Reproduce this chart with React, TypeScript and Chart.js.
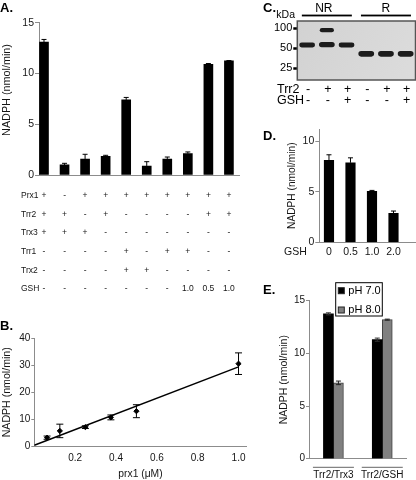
import React, { useEffect, useRef } from "react";
import { Chart, registerables } from "chart.js";

Chart.register(...registerables);

const FONT = "'Liberation Sans', Arial, Helvetica, sans-serif";
Chart.defaults.font.family = FONT;

const AXIS = "#8c8c8c";
const TEXT = "#151515";

// ---------------- Panel A data ----------------
const aValues = [13.1, 0.99, 1.58, 1.84, 7.4, 0.89, 1.58, 2.1, 10.9, 11.24];
const aErrors = [0.25, 0.16, 0.46, 0.1, 0.24, 0.42, 0.19, 0.17, 0.08, 0.03];
const aYTicks = [0, 5, 10, 15];
const aRowLabels = ["Prx1", "Trr2", "Trx3", "Trr1", "Trx2", "GSH"];
const aPrx1 = ["+", "-", "+", "+", "+", "+", "+", "+", "+", "+"];
const aTrr2 = ["+", "+", "-", "+", "-", "-", "-", "-", "+", "+"];
const aTrx3 = ["+", "+", "+", "-", "-", "-", "-", "-", "-", "-"];
const aTrr1 = ["-", "-", "-", "-", "+", "-", "+", "+", "-", "-"];
const aTrx2 = ["-", "-", "-", "-", "+", "+", "-", "-", "-", "-"];
const aGSH = ["-", "-", "-", "-", "-", "-", "-", "1.0", "0.5", "1.0"];
const aRows = [aPrx1, aTrr2, aTrx3, aTrr1, aTrx2, aGSH];

// ---------------- Panel B data ----------------
const bConc = [0.0625, 0.125, 0.25, 0.375, 0.5, 1.0];
const bRate = [3.2, 5.7, 7.1, 10.7, 13.0, 30.6];
const bErr = [0.6, 2.5, 0.5, 0.9, 2.4, 4.0];
const bFitX = [0, 1.0];
const bFitY = [0.4, 29.4];
const bXTicks = [0.2, 0.4, 0.6, 0.8, 1.0];
const bYTicks = [0, 10, 20, 30, 40];

// ---------------- Panel C data ----------------
const cLanes = ["1", "2", "3", "4", "5", "6"];
const cMarkers = [25, 50, 100];
const cMonomer: (number[] | null)[] = [
  [51.5, 61], [51.8, 62.5], [51.5, 61], [37.5, 45.5], [37.5, 45.5], [37.5, 45.5],
];
const cDimer: (number[] | null)[] = [null, [87, 101], null, null, null, null];
const cTrr2 = ["-", "+", "+", "-", "+", "+"];
const cGSH = ["-", "-", "+", "-", "-", "+"];
const cGroups = ["NR", "R"];

// ---------------- Panel D data ----------------
const dGSH = ["0", "0.5", "1.0", "2.0"];
const dValues = [8.1, 7.86, 5.03, 2.86];
const dErrors = [0.55, 0.49, 0.1, 0.23];
const dYTicks = [0, 5, 10];

// ---------------- Panel E data ----------------
const eGroups = ["Trr2/Trx3", "Trr2/GSH"];
const eSeries = ["pH 7.0", "pH 8.0"];
const ePh7 = [13.75, 11.3];
const ePh8 = [7.2, 13.2];
const ePh7Err = [0.1, 0.15];
const ePh8Err = [0.17, 0.05];
const eYTicks = [0, 5, 10, 15];

const Y_TITLE = "NADPH (nmol/min)";

type ErrSet = { dataset: number; errors: number[]; both?: boolean; cap: number; color?: string };

function errorBars(sets: ErrSet[]) {
  return {
    id: "errorBars",
    afterDatasetsDraw(chart: any) {
      const ctx = chart.ctx;
      const ys = chart.scales.y;
      ctx.save();
      sets.forEach((s) => {
        const meta = chart.getDatasetMeta(s.dataset);
        const data = chart.data.datasets[s.dataset].data;
        meta.data.forEach((el: any, i: number) => {
          const e = s.errors[i];
          const raw = data[i];
          if (e == null || raw == null) return;
          const v = typeof raw === "number" ? raw : raw.y;
          const x = el.x;
          const yt = ys.getPixelForValue(v + e);
          const yb = ys.getPixelForValue(s.both ? v - e : v);
          ctx.strokeStyle = s.color || "#000";
          ctx.lineWidth = 1;
          ctx.beginPath();
          ctx.moveTo(x, yt);
          ctx.lineTo(x, yb);
          ctx.moveTo(x - s.cap, yt);
          ctx.lineTo(x + s.cap, yt);
          if (s.both) {
            ctx.moveTo(x - s.cap, yb);
            ctx.lineTo(x + s.cap, yb);
          }
          ctx.stroke();
        });
      });
      ctx.restore();
    },
  };
}

const fixWidth = (w: number) => (s: any) => {
  s.width = w;
};
const fixHeight = (h: number) => (s: any) => {
  s.height = h;
};
const setTicks = (arr: number[]) => (s: any) => {
  s.ticks = arr.map((v) => ({ value: v }));
};

// ---------------- Panel A ----------------
function makeA(): any {
  const table = {
    id: "aTable",
    afterDraw(chart: any) {
      const ctx = chart.ctx;
      const xs = chart.scales.x;
      ctx.save();
      // rotated axis title (sits a little above the plot's middle)
      ctx.save();
      ctx.translate(6.8, 90);
      ctx.rotate(-Math.PI / 2);
      ctx.font = `10.8px ${FONT}`;
      ctx.fillStyle = TEXT;
      ctx.textAlign = "center";
      ctx.textBaseline = "middle";
      ctx.fillText(Y_TITLE, 0, 0);
      ctx.restore();
      // condition table
      ctx.font = `8.5px ${FONT}`;
      ctx.fillStyle = TEXT;
      ctx.textBaseline = "middle";
      aRowLabels.forEach((lab, r) => {
        const y = 195.5 + r * 18.7;
        ctx.textAlign = "left";
        ctx.fillText(lab, 21, y);
        ctx.textAlign = "center";
        aRows[r].forEach((sym, i) => ctx.fillText(sym, xs.getPixelForValue(i), y));
      });
      ctx.restore();
    },
  };
  return {
    type: "bar",
    data: {
      datasets: [
        {
          data: aValues.map((v, i) => ({ x: i, y: v })),
          backgroundColor: "#000",
          borderWidth: 0,
          barThickness: 9,
        },
      ],
    },
    options: {
      responsive: false,
      animation: false,
      layout: { padding: { left: 0, top: 22.7, right: 19, bottom: 125 } },
      plugins: { legend: { display: false }, tooltip: { enabled: false } },
      scales: {
        x: {
          type: "linear",
          offset: false,
          min: -0.243,
          max: 9.49,
          ticks: { display: false },
          grid: { display: false, drawTicks: false },
          border: { color: AXIS, width: 1 },
          afterFit: fixHeight(0),
        },
        y: {
          min: 0,
          max: 15,
          afterBuildTicks: setTicks(aYTicks),
          ticks: { font: { size: 10.5 }, color: TEXT, padding: 1 },
          grid: { display: true, drawOnChartArea: false, tickLength: 4, color: AXIS },
          border: { color: AXIS, width: 1 },
          afterFit: fixWidth(39),
        },
      },
    },
    plugins: [errorBars([{ dataset: 0, errors: aErrors, cap: 2.5 }]), table],
  };
}

// ---------------- Panel B ----------------
function makeB(): any {
  return {
    type: "scatter",
    data: {
      datasets: [
        {
          data: bConc.map((x, i) => ({ x, y: bRate[i] })),
          backgroundColor: "#000",
          borderColor: "#000",
          pointStyle: "rectRot",
          pointRadius: 2.6,
        },
        {
          type: "line",
          data: bFitX.map((x, i) => ({ x, y: bFitY[i] })),
          borderColor: "#000",
          borderWidth: 1.5,
          pointRadius: 0,
          showLine: true,
          fill: false,
        },
      ],
    },
    options: {
      responsive: false,
      animation: false,
      layout: { padding: { left: 0, top: 18.3, right: 11.3, bottom: 0 } },
      plugins: { legend: { display: false }, tooltip: { enabled: false } },
      scales: {
        x: {
          type: "linear",
          min: 0,
          max: 1.04,
          afterBuildTicks: setTicks(bXTicks),
          ticks: { font: { size: 10 }, color: TEXT, padding: 6, callback: (v: any) => Number(v).toFixed(1) },
          grid: { display: false, drawTicks: false },
          border: { color: AXIS, width: 1 },
          title: {
            display: true,
            text: "prx1 (\u03bcM)",
            font: { size: 10.3 },
            color: TEXT,
            padding: { top: 0, bottom: 0 },
          },
          afterFit: fixHeight(33.7),
        },
        y: {
          min: 0,
          max: 40,
          afterBuildTicks: setTicks(bYTicks),
          ticks: { font: { size: 10 }, color: TEXT, padding: 1 },
          grid: { display: true, drawOnChartArea: false, tickLength: 3, color: AXIS },
          border: { color: AXIS, width: 1 },
          title: {
            display: true,
            text: Y_TITLE,
            font: { size: 10.6 },
            color: TEXT,
            padding: { top: 1, bottom: 0 },
          },
          afterFit: fixWidth(34.3),
        },
      },
    },
    plugins: [errorBars([{ dataset: 0, errors: bErr, both: true, cap: 3.5 }])],
  };
}

// ---------------- Panel C ----------------
function makeC(): any {
  const blot = {
    id: "blot",
    beforeDatasetsDraw(chart: any) {
      const { ctx, chartArea: a } = chart;
      ctx.save();
      const g = ctx.createLinearGradient(a.left, a.top, a.right, a.bottom);
      g.addColorStop(0, "#d2d2d2");
      g.addColorStop(1, "#dcdcdc");
      ctx.fillStyle = g;
      ctx.fillRect(a.left, a.top, a.right - a.left, a.bottom - a.top);
      ctx.strokeStyle = "#555";
      ctx.lineWidth = 1.5;
      ctx.strokeRect(a.left, a.top, a.right - a.left, a.bottom - a.top);
      ctx.restore();
    },
    beforeDatasetDraw(chart: any) {
      chart.ctx.filter = "blur(0.7px)";
    },
    afterDatasetDraw(chart: any) {
      chart.ctx.filter = "none";
    },
    afterDraw(chart: any) {
      const { ctx } = chart;
      const xs = chart.scales.x;
      ctx.save();
      ctx.fillStyle = "#000";
      ctx.textBaseline = "middle";
      ctx.font = `10.5px ${FONT}`;
      ctx.textAlign = "right";
      ctx.fillText("kDa", 32, 15.5);
      ctx.font = `12px ${FONT}`;
      ctx.textAlign = "center";
      cGroups.forEach((gname, gi) => {
        const c = (xs.getPixelForValue(gi * 3) + xs.getPixelForValue(gi * 3 + 2)) / 2;
        ctx.fillText(gname, c - (gi === 0 ? 3 : 0), 8.5);
        ctx.fillRect(c - 25, 14.6, 50, 1.8);
      });
      ctx.font = `12.5px ${FONT}`;
      ctx.textAlign = "left";
      ctx.fillText("Trr2", 14, 90);
      ctx.fillText("GSH", 14, 100.7);
      ctx.textAlign = "center";
      cLanes.forEach((_, i) => {
        const x = xs.getPixelForValue(i) + 1;
        ctx.fillText(cTrr2[i], x, 90);
        ctx.fillText(cGSH[i], x, 100.7);
      });
      ctx.restore();
    },
  };
  return {
    type: "bar",
    data: {
      labels: cLanes,
      datasets: [
        {
          data: cMonomer,
          backgroundColor: "#1c1c1c",
          borderWidth: 0,
          borderRadius: 3,
          borderSkipped: false,
          grouped: false,
          barPercentage: 0.8,
          categoryPercentage: 1,
        },
        {
          data: cDimer,
          backgroundColor: "#1c1c1c",
          borderWidth: 0,
          borderRadius: 3,
          borderSkipped: false,
          grouped: false,
          barPercentage: 0.72,
          categoryPercentage: 1,
        },
      ],
    },
    options: {
      responsive: false,
      animation: false,
      layout: { padding: { left: 0, top: 21, right: 0.5, bottom: 32 } },
      plugins: { legend: { display: false }, tooltip: { enabled: false } },
      scales: {
        x: {
          ticks: { display: false },
          grid: { display: false, drawTicks: false },
          border: { display: false },
          afterFit: fixHeight(0),
        },
        y: {
          type: "logarithmic",
          min: 16.7,
          max: 129,
          afterBuildTicks: setTicks(cMarkers),
          ticks: { font: { size: 11 }, color: "#000", padding: 1, callback: (v: any) => String(v) },
          grid: {
            display: true,
            drawOnChartArea: false,
            tickLength: 4,
            tickWidth: 2.5,
            tickColor: "#000",
            color: "#000",
          },
          border: { display: false },
          afterFit: fixWidth(34.3),
        },
      },
    },
    plugins: [blot],
  };
}

// ---------------- Panel D ----------------
function makeD(): any {
  const lab = {
    id: "dLab",
    afterDraw(chart: any) {
      const ctx = chart.ctx;
      ctx.save();
      ctx.font = `10.5px ${FONT}`;
      ctx.fillStyle = TEXT;
      ctx.textBaseline = "middle";
      ctx.textAlign = "left";
      ctx.fillText("GSH", 21, 131.7);
      ctx.restore();
    },
  };
  return {
    type: "bar",
    data: {
      datasets: [
        {
          data: dValues.map((v, i) => ({ x: i, y: v })),
          backgroundColor: "#000",
          borderWidth: 0,
          barThickness: 9.5,
        },
      ],
    },
    options: {
      responsive: false,
      animation: false,
      layout: { padding: { left: 0, top: 9, right: 1, bottom: 0 } },
      plugins: { legend: { display: false }, tooltip: { enabled: false } },
      scales: {
        x: {
          type: "linear",
          offset: false,
          min: -0.45,
          max: 4.0,
          afterBuildTicks: setTicks([0, 1, 2, 3]),
          ticks: { font: { size: 10.5 }, color: TEXT, padding: 4, callback: (v: any) => dGSH[v] },
          grid: { display: false, drawTicks: false },
          border: { color: AXIS, width: 1 },
          afterFit: fixHeight(19.7),
        },
        y: {
          min: 0,
          max: 11.2,
          afterBuildTicks: setTicks(dYTicks),
          ticks: { font: { size: 10.5 }, color: TEXT, padding: 1 },
          grid: { display: true, drawOnChartArea: false, tickLength: 4, color: AXIS },
          border: { color: AXIS, width: 1 },
          title: {
            display: true,
            text: Y_TITLE,
            font: { size: 10.2 },
            color: TEXT,
            padding: { top: 22.8, bottom: 0 },
          },
          afterFit: fixWidth(56.3),
        },
      },
    },
    plugins: [errorBars([{ dataset: 0, errors: dErrors, cap: 2.5 }]), lab],
  };
}

// ---------------- Panel E ----------------
function makeE(): any {
  const deco = {
    id: "eDeco",
    afterDraw(chart: any) {
      const ctx = chart.ctx;
      const xs = chart.scales.x;
      ctx.save();
      // legend box
      ctx.fillStyle = "#fff";
      ctx.fillRect(72.7, 4.7, 46.6, 33.3);
      ctx.strokeStyle = "#000";
      ctx.lineWidth = 1;
      ctx.strokeRect(72.7, 4.7, 46.6, 33.3);
      ctx.font = `11px ${FONT}`;
      ctx.textBaseline = "middle";
      ctx.textAlign = "left";
      chart.data.datasets.forEach((ds: any, i: number) => {
        const y = 12.7 + i * 19.3;
        ctx.fillStyle = ds.backgroundColor;
        ctx.fillRect(75.3, y - 3, 6, 6);
        ctx.strokeStyle = "#222";
        ctx.strokeRect(75.3, y - 3, 6, 6);
        ctx.fillStyle = "#000";
        ctx.fillText(ds.label, 85.3, y);
      });
      // group labels
      ctx.font = `10px ${FONT}`;
      ctx.textAlign = "center";
      eGroups.forEach((g, i) => {
        const c = xs.getPixelForValue(i);
        ctx.strokeStyle = "#666";
        ctx.beginPath();
        ctx.moveTo(c - 20.5, 189.3);
        ctx.lineTo(c + 20.5, 189.3);
        ctx.stroke();
        ctx.fillStyle = "#111";
        ctx.fillText(g, c, 197.5);
      });
      ctx.restore();
    },
  };
  return {
    type: "bar",
    data: {
      labels: eGroups,
      datasets: [
        {
          label: eSeries[0],
          data: ePh7,
          backgroundColor: "#000",
          borderColor: "#000",
          borderWidth: 0,
          barThickness: 10,
          categoryPercentage: 0.97,
        },
        {
          label: eSeries[1],
          data: ePh8,
          backgroundColor: "#808080",
          borderColor: "#404040",
          borderWidth: 1,
          barThickness: 10,
          categoryPercentage: 0.97,
        },
      ],
    },
    options: {
      responsive: false,
      animation: false,
      layout: { padding: { left: 0, top: 22.7, right: 9.3, bottom: 21.3 } },
      plugins: { legend: { display: false }, tooltip: { enabled: false } },
      scales: {
        x: {
          ticks: { display: false },
          grid: { display: false, drawTicks: false },
          border: { color: AXIS, width: 1 },
          afterFit: fixHeight(0),
        },
        y: {
          min: 0,
          max: 15,
          afterBuildTicks: setTicks(eYTicks),
          ticks: { font: { size: 10 }, color: TEXT, padding: 1 },
          grid: { display: true, drawOnChartArea: false, tickLength: 3, color: AXIS },
          border: { color: AXIS, width: 1 },
          title: {
            display: true,
            text: Y_TITLE,
            font: { size: 10.5 },
            color: TEXT,
            padding: { top: 14.7, bottom: 0 },
          },
          afterFit: fixWidth(46),
        },
      },
    },
    plugins: [
      errorBars([
        { dataset: 0, errors: ePh7Err, both: true, cap: 2.5, color: "#333" },
        { dataset: 1, errors: ePh8Err, both: true, cap: 2.5, color: "#222" },
      ]),
      deco,
    ],
  };
}

function ChartBox(props: { left: number; top: number; width: number; height: number; make: () => any }) {
  const ref = useRef<HTMLCanvasElement | null>(null);
  useEffect(() => {
    const chart = new Chart(ref.current as HTMLCanvasElement, props.make());
    return () => chart.destroy();
  }, []);
  return (
    <canvas
      ref={ref}
      width={props.width}
      height={props.height}
      style={{ position: "absolute", left: props.left, top: props.top, width: props.width, height: props.height }}
    />
  );
}

const letterStyle = (left: number, top: number): React.CSSProperties => ({
  position: "absolute",
  left,
  top,
  font: `bold 13px ${FONT}`,
  lineHeight: "13px",
  color: "#000",
});

export default function App() {
  return (
    <div
      style={{
        position: "fixed",
        left: 0,
        top: 0,
        width: 416,
        height: 480,
        background: "#fff",
        overflow: "hidden",
        fontFamily: FONT,
      }}
    >
      <ChartBox left={0} top={0} width={258} height={300} make={makeA} />
      <ChartBox left={0} top={320} width={258} height={160} make={makeB} />
      <ChartBox left={263} top={0} width={153} height={112} make={makeC} />
      <ChartBox left={263} top={120} width={153} height={142} make={makeD} />
      <ChartBox left={263} top={278} width={153} height={202} make={makeE} />
      <div style={letterStyle(0, 1)}>A.</div>
      <div style={letterStyle(0, 319)}>B.</div>
      <div style={letterStyle(263, 1)}>C.</div>
      <div style={letterStyle(263, 129)}>D.</div>
      <div style={letterStyle(263, 283)}>E.</div>
    </div>
  );
}
